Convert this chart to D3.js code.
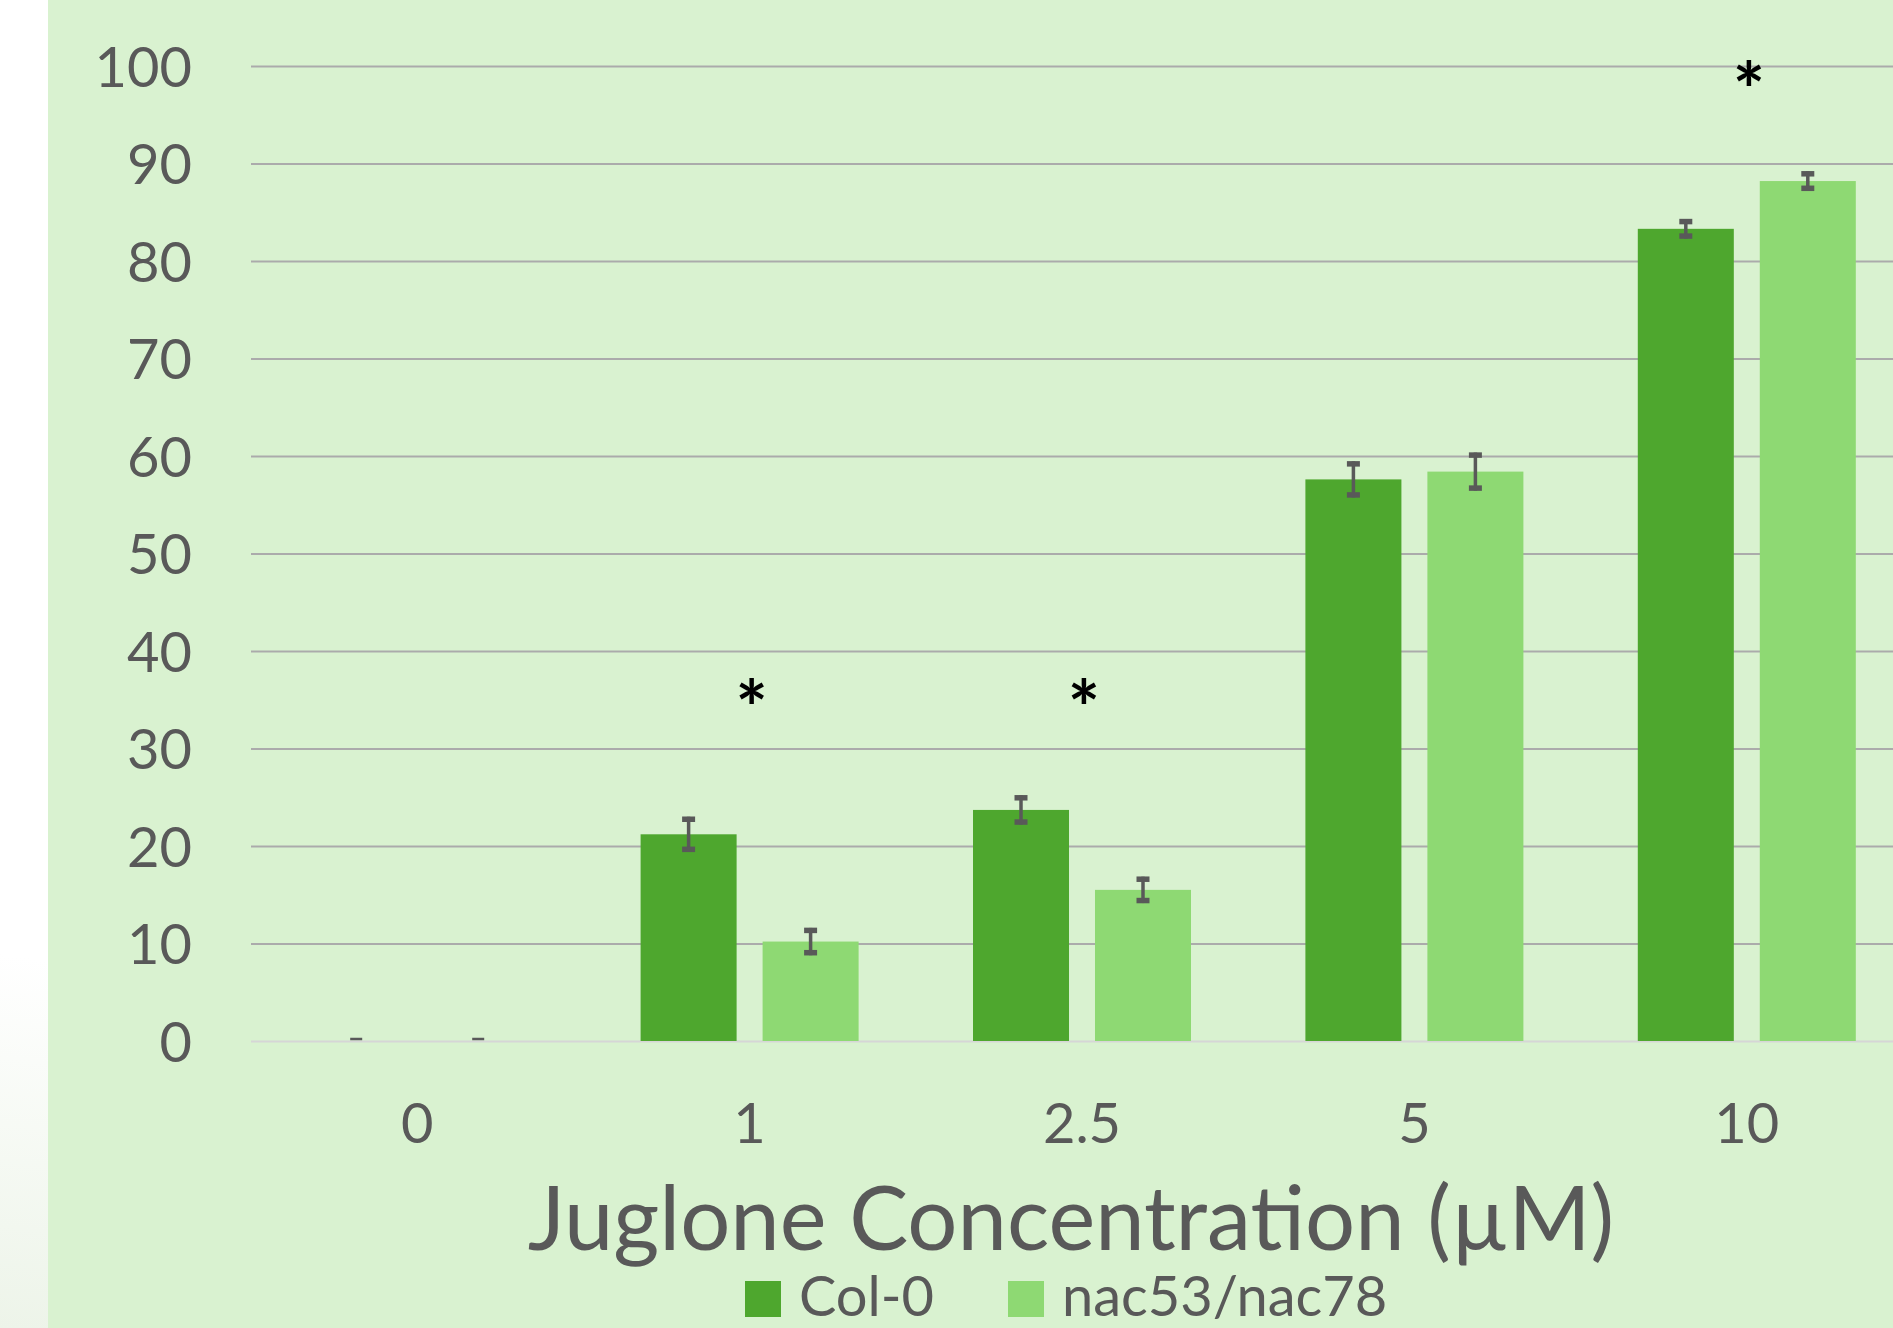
<!DOCTYPE html>
<html>
<head>
<meta charset="utf-8">
<script src="https://cdn.jsdelivr.net/npm/d3@7"></script>
<style>
  body { margin: 0; overflow: hidden; background: #fff; }
  text { font-family: Lato, "Open Sans", sans-serif; fill: #595959; }
</style>
</head>
<body>
<div id="container"></div>
<script>
/* DATA */
const categories = ["0", "1", "2.5", "5", "10"];
const series = ["Col-0", "nac53/nac78"];
const col0 = [0, 21.2, 23.7, 57.6, 83.3];
const col0Err = [0, 1.8, 1.5, 1.85, 1.0];
const nac = [0, 10.2, 15.5, 58.4, 88.2];
const nacErr = [0, 1.4, 1.35, 1.95, 1.0];
// where the significance stars sit, in axis units (null = none)
const stars = [null, 36, 36, null, 99.3];
const yTicks = [0, 10, 20, 30, 40, 50, 60, 70, 80, 90, 100];

/* CONSTANTS */
const width = 1893, height = 1328;
const plotLeft = 251, plotRight = 1913, plotTop = 66, plotBottom = 1041;
const colors = ["#4ea72e", "#8ed973"];

const svg = d3.select("#container").append("svg")
  .attr("width", width)
  .attr("height", height);

// background: white strip on the left with a soft fade at the bottom, then green panel
const defs = svg.append("defs");
const grad = defs.append("linearGradient")
  .attr("id", "fade").attr("gradientUnits", "userSpaceOnUse")
  .attr("x1", 48).attr("y1", 960).attr("x2", 0).attr("y2", 1328);
grad.append("stop").attr("offset", 0).attr("stop-color", "#ffffff");
grad.append("stop").attr("offset", 1).attr("stop-color", "#edf4e9");
svg.append("rect").attr("x", 0).attr("y", 0).attr("width", 48).attr("height", height)
  .attr("fill", "url(#fade)");
svg.append("rect").attr("x", 48).attr("y", 0).attr("width", width - 48).attr("height", height)
  .attr("fill", "#d9f2d0");

// SCALES
const y = d3.scaleLinear().domain([0, 100]).range([plotBottom, plotTop]);
const x0 = d3.scaleBand().domain(categories).range([plotLeft, plotRight]);
const groupW = 218;
const x1 = d3.scaleBand().domain(series).range([0, groupW]).paddingInner(0.213);
const groupX = c => x0(c) + (x0.bandwidth() - groupW) / 2;

// GRID
const grid = svg.append("g")
  .attr("transform", `translate(${plotLeft},0)`)
  .call(d3.axisLeft(y).tickValues(yTicks).tickSize(-(plotRight - plotLeft)).tickFormat(""));
grid.select(".domain").remove();
grid.selectAll("line")
  .attr("stroke", d => d === 0 ? "#d6d6d6" : "#ababab")
  .attr("stroke-width", 2);

// Y AXIS LABELS
const yAxis = svg.append("g")
  .attr("transform", `translate(${plotLeft},0)`)
  .call(d3.axisLeft(y).tickValues(yTicks).tickSize(0).tickPadding(59));
yAxis.select(".domain").remove();
yAxis.selectAll("text")
  .style("font-size", "56px")
  .attr("dy", "0.36em")
  .attr("fill", "#595959");

// X AXIS LABELS
const xAxis = svg.append("g")
  .attr("transform", `translate(0,${plotBottom})`)
  .call(d3.axisBottom(x0).tickSize(0).tickPadding(62));
xAxis.select(".domain").remove();
xAxis.selectAll("text")
  .style("font-size", "56px")
  .attr("fill", "#595959");

// BARS
const rows = categories.map((c, i) => ({
  cat: c,
  vals: [
    { s: series[0], v: col0[i], e: col0Err[i] },
    { s: series[1], v: nac[i], e: nacErr[i] }
  ]
}));

const groups = svg.append("g").selectAll("g")
  .data(rows).join("g")
  .attr("transform", d => `translate(${groupX(d.cat)},0)`);

groups.selectAll("rect")
  .data(d => d.vals).join("rect")
  .attr("x", d => x1(d.s))
  .attr("y", d => y(d.v))
  .attr("width", x1.bandwidth())
  .attr("height", d => y(0) - y(d.v))
  .attr("fill", (d, i) => colors[i]);

// ERROR BARS
const eb = groups.selectAll("g.err")
  .data(d => d.vals).join("g").attr("class", "err")
  .attr("transform", d => `translate(${x1(d.s) + x1.bandwidth() / 2},0)`);
// zero-width bars collapse to a thin dash
eb.filter(d => d.e === 0).append("line")
  .attr("x1", -6).attr("x2", 6)
  .attr("y1", d => y(d.v) - 2).attr("y2", d => y(d.v) - 2)
  .attr("stroke", "#595959").attr("stroke-width", 2.5);
const ebFull = eb.filter(d => d.e > 0);
ebFull.append("line")
  .attr("y1", d => y(d.v + d.e)).attr("y2", d => y(d.v - d.e))
  .attr("stroke", "#595959").attr("stroke-width", 3.5);
ebFull.append("line")
  .attr("x1", -6.5).attr("x2", 6.5)
  .attr("y1", d => y(d.v + d.e) + 2.5).attr("y2", d => y(d.v + d.e) + 2.5)
  .attr("stroke", "#595959").attr("stroke-width", 5.5);
ebFull.append("line")
  .attr("x1", -6.5).attr("x2", 6.5)
  .attr("y1", d => y(d.v - d.e) - 2.5).attr("y2", d => y(d.v - d.e) - 2.5)
  .attr("stroke", "#595959").attr("stroke-width", 5.5);

// SIGNIFICANCE STARS
svg.append("g").selectAll("text")
  .data(categories.map((c, i) => ({ c, s: stars[i] })).filter(d => d.s !== null))
  .join("text")
  .attr("x", d => x0(d.c) + x0.bandwidth() / 2 + 2)
  .attr("y", d => y(d.s))
  .attr("dy", "0.6em")
  .attr("text-anchor", "middle")
  .style("font-size", "76px")
  .style("font-weight", "bold")
  .style("fill", "#000")
  .text("*");

// AXIS TITLE
svg.append("text")
  .attr("x", 1071)
  .attr("y", 1250)
  .attr("text-anchor", "middle")
  .style("font-size", "88.5px")
  .text("Juglone Concentration (µM)");

// LEGEND
const legendX = [745, 1008];
const legend = svg.append("g").selectAll("g")
  .data(series).join("g")
  .attr("transform", (d, i) => `translate(${legendX[i]},1281)`);
legend.append("rect")
  .attr("width", 36).attr("height", 36)
  .attr("fill", (d, i) => colors[i]);
legend.append("text")
  .attr("x", 54).attr("y", 35)
  .style("font-size", "56px")
  .text(d => d);
</script>
</body>
</html>
